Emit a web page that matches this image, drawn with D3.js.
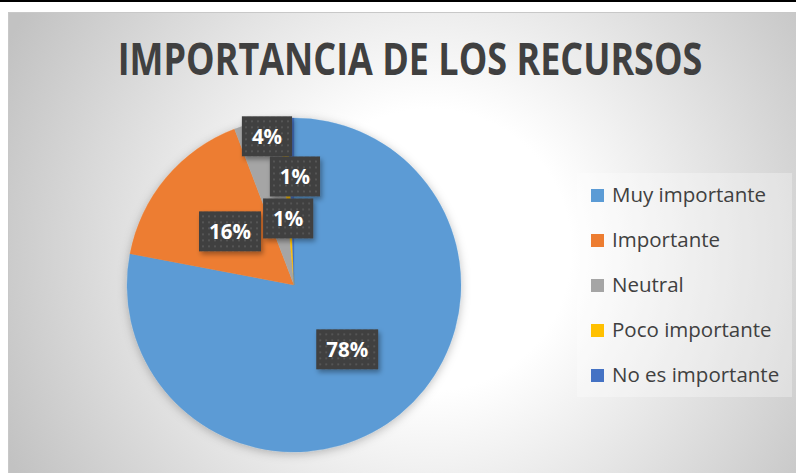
<!DOCTYPE html>
<html>
<head>
<meta charset="utf-8">
<script src="https://cdn.jsdelivr.net/npm/d3@7"></script>
<style>
  html, body { margin: 0; padding: 0; background: #fff; }
  svg { display: block; }
</style>
</head>
<body>
<svg id="chart" width="796" height="473"></svg>
<script>
// ---- data ----
const title = "IMPORTANCIA DE LOS RECURSOS";
const categories = ["Muy importante", "Importante", "Neutral", "Poco importante", "No es importante"];
const values = [78, 16.2, 4.4, 0.8, 0.6];
const colors = ["#5b9bd5", "#ed7d31", "#a5a5a5", "#ffc000", "#4472c4"];
// label layout: [angle (deg, clockwise from 12 o'clock), radius fraction]
const labelLayout = [[null, 0.5], [null, 0.5], [-10.3, 0.905], [0.5, 0.65], [-5, 0.4]];

const W = 796, H = 473;
const svg = d3.select("#chart");
const defs = svg.append("defs");

// background gradient
const bg = defs.append("radialGradient").attr("id", "bg")
  .attr("gradientUnits", "userSpaceOnUse")
  .attr("cx", 430).attr("cy", 250).attr("r", 470);
bg.append("stop").attr("offset", "0").attr("stop-color", "#ffffff");
bg.append("stop").attr("offset", "0.3").attr("stop-color", "#ffffff");
bg.append("stop").attr("offset", "1").attr("stop-color", "#c2c2c2");

// dot pattern for labels
const pat = defs.append("pattern").attr("id", "dots")
  .attr("patternUnits", "userSpaceOnUse").attr("width", 6).attr("height", 6);
pat.append("rect").attr("width", 6).attr("height", 6).attr("fill", "#3f3f3f");
pat.append("rect").attr("x", 2).attr("y", 2).attr("width", 2).attr("height", 2).attr("fill", "#555555");

const sh = defs.append("filter").attr("id", "shadow").attr("x", "-20%").attr("y", "-20%").attr("width", "150%").attr("height", "150%");
sh.append("feDropShadow").attr("dx", 2).attr("dy", 3).attr("stdDeviation", 2.5).attr("flood-color", "#000").attr("flood-opacity", 0.35);
const psh = defs.append("filter").attr("id", "pshadow").attr("x", "-20%").attr("y", "-20%").attr("width", "140%").attr("height", "140%");
psh.append("feDropShadow").attr("dx", 0).attr("dy", 2).attr("stdDeviation", 5).attr("flood-color", "#000").attr("flood-opacity", 0.25);

// top line
svg.append("rect").attr("x", 0).attr("y", 0).attr("width", W).attr("height", 2).attr("fill", "#000");

// chart area
svg.append("rect").attr("x", 8.5).attr("y", 12.5).attr("width", W - 8).attr("height", H - 12)
  .attr("fill", "url(#bg)").attr("stroke", "#c8c8c8").attr("stroke-width", 1);

// title: fit to width by font size, then stretch vertically to the cap height
const titleW = 585, baseSize = 45;
const tg = svg.append("g");
const tt = tg.append("text").text(title)
  .attr("x", 0).attr("y", 0)
  .attr("text-anchor", "middle")
  .attr("font-family", "'Open Sans', sans-serif")
  .attr("font-weight", "bold").attr("font-size", baseSize)
  .attr("fill", "#404040");
const natW = tt.node().getComputedTextLength();
const fs = baseSize * titleW / natW;
tt.attr("font-size", fs);
tg.attr("transform", `translate(410,75) scale(1,${baseSize / fs})`);

// pie
const cx = 294, cy = 285, R = 167;
const pie = d3.pie().sort(null).value(d => d)(values);
const arc = d3.arc().innerRadius(0).outerRadius(R);
const gp = svg.append("g").attr("transform", `translate(${cx},${cy})`);
gp.append("g").attr("filter", "url(#pshadow)")
  .selectAll("path").data(pie).join("path")
  .attr("d", arc).attr("fill", (d, i) => colors[i])
  .attr("stroke", (d, i) => colors[i]).attr("stroke-width", 0.3);

// labels
const total = d3.sum(values);
const fmt = d3.format(".0%");
const lg = gp.append("g");
pie.forEach((d, i) => {
  const [angDeg, frac] = labelLayout[i];
  const a = angDeg === null ? (d.startAngle + d.endAngle) / 2 : angDeg * Math.PI / 180;
  const x = Math.sin(a) * R * frac, y = -Math.cos(a) * R * frac;
  const txt = fmt(values[i] / total);
  const g = lg.append("g").attr("transform", `translate(${x},${y})`);
  const t = g.append("text").text(txt)
    .attr("text-anchor", "middle").attr("dy", "0.36em")
    .attr("font-family", "'Open Sans', sans-serif").attr("font-weight", "bold")
    .attr("font-size", 20.5).attr("fill", "#ffffff");
  const w = t.node().getComputedTextLength() + 20;
  g.insert("rect", "text").attr("x", -w / 2).attr("y", -20).attr("width", w).attr("height", 40)
    .attr("fill", "url(#dots)").attr("filter", "url(#shadow)");
});

// legend
const leg = svg.append("g");
leg.append("rect").attr("x", 577).attr("y", 173).attr("width", 215).attr("height", 224)
  .attr("fill", "#ffffff").attr("fill-opacity", 0.3);
categories.forEach((c, i) => {
  const y = 195 + i * 45;
  leg.append("rect").attr("x", 591).attr("y", y - 6).attr("width", 13).attr("height", 13).attr("fill", colors[i]);
  leg.append("text").text(c).attr("x", 612).attr("y", y).attr("dy", "0.36em")
    .attr("font-family", "'Open Sans', sans-serif").attr("font-size", 20.5).attr("fill", "#404040");
});
</script>
</body>
</html>
